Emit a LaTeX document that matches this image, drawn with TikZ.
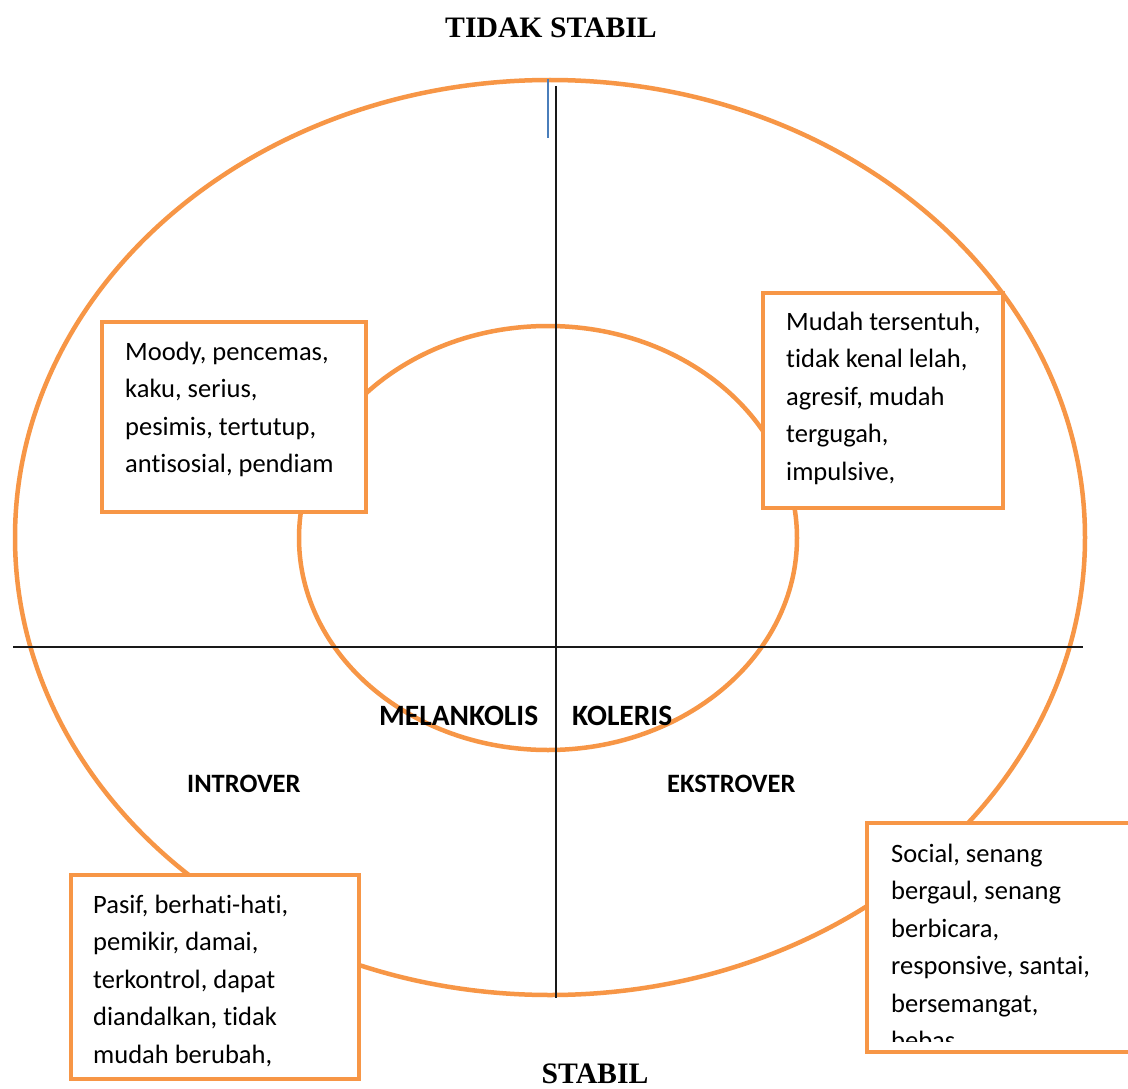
\documentclass[tikz,border=0pt]{standalone}
\usepackage{fontspec}
\setmainfont{Carlito}[RawFeature={-liga}]
\newfontfamily\titlefont{Liberation Serif}
\definecolor{ora}{HTML}{F79646}
\definecolor{blu}{HTML}{4A7EBB}
\newcommand\linestack[1]{\vtop{#1}}
\begin{document}
\begin{tikzpicture}[x=1pt,y=-1pt,
  orange line/.style={draw=ora,line width=4.5pt},
  axis/.style={draw=black!90,line width=2pt},
  textbox/.style={draw=ora,line width=4.5pt,fill=white,inner sep=0pt,outer sep=0pt,anchor=north west},
  boxtext/.style={anchor=base west,inner sep=0pt,font=\fontsize{26.5}{37.5}\selectfont},
  title/.style={font=\titlefont\bfseries\fontsize{29.7}{34}\selectfont,inner sep=0pt,anchor=base},
  biglabel/.style={font=\bfseries\fontsize{29.5}{34}\selectfont,inner sep=0pt,anchor=base west},
  smalllabel/.style={font=\bfseries\fontsize{26.5}{30}\selectfont,inner sep=0pt,anchor=base west}]
\useasboundingbox (0,0) rectangle (1128,1089);
\fill[white] (0,0) rectangle (1128,1089);

% ellipses
\draw[orange line] (550,537.5) ellipse [x radius=535, y radius=457.5];
\draw[orange line] (548,538) ellipse [x radius=249, y radius=212];

% axes
\coordinate (h1) at (13,647);
\coordinate (h2) at (1083,647);
\coordinate (v1) at (555.5,86);
\coordinate (v2) at (555.5,998);
\coordinate (b1) at (547.5,79);
\coordinate (b2) at (547.5,138);
\draw[axis] (h1) -- (h2);
\draw[axis] (v1) -- (v2);
\draw[draw=blu,line width=2pt] (b1) -- (b2);

% titles
\node[title] (ttop) at (551,38) {TIDAK STABIL};
\node[title] (tbot) at (595,1083) {STABIL};

% labels
\node[biglabel] (mel) at (379,725) {MELANKOLIS};
\node[biglabel] (kol) at (572,725) {KOLERIS};
\node[smalllabel] (intro) at (187,792) {INTROVER};
\node[smalllabel] (ekstro) at (667,792) {EKSTROVER};

% boxes
\node[textbox,minimum width=264pt,minimum height=190pt] (tl) at (102,322) {};
\node[boxtext] (tltext) at (125,360) {\linestack{\hbox{Moody, pencemas,}\hbox{kaku, serius,}\hbox{pesimis, tertutup,}\hbox{antisosial, pendiam}}};

\node[textbox,minimum width=240pt,minimum height=215pt] (tr) at (763,293) {};
\node[boxtext] (trtext) at (786,330) {\linestack{\hbox{Mudah tersentuh,}\hbox{tidak kenal lelah,}\hbox{agresif, mudah}\hbox{tergugah,}\hbox{impulsive,}}};

\node[textbox,minimum width=288pt,minimum height=204pt] (bl) at (71,875) {};
\node[boxtext] (bltext) at (93,913) {\linestack{\hbox{Pasif, berhati-hati,}\hbox{pemikir, damai,}\hbox{terkontrol, dapat}\hbox{diandalkan, tidak}\hbox{mudah berubah,}}};

\node[textbox,minimum width=280pt,minimum height=229pt] (br) at (867,823) {};
\begin{scope}
\clip (867,823) rectangle (1128,1041);
\node[boxtext] (brtext) at (891,862) {\linestack{\hbox{Social, senang}\hbox{bergaul, senang}\hbox{berbicara,}\hbox{responsive, santai,}\hbox{bersemangat,}\hbox{bebas}}};
\end{scope}
\end{tikzpicture}
\end{document}
